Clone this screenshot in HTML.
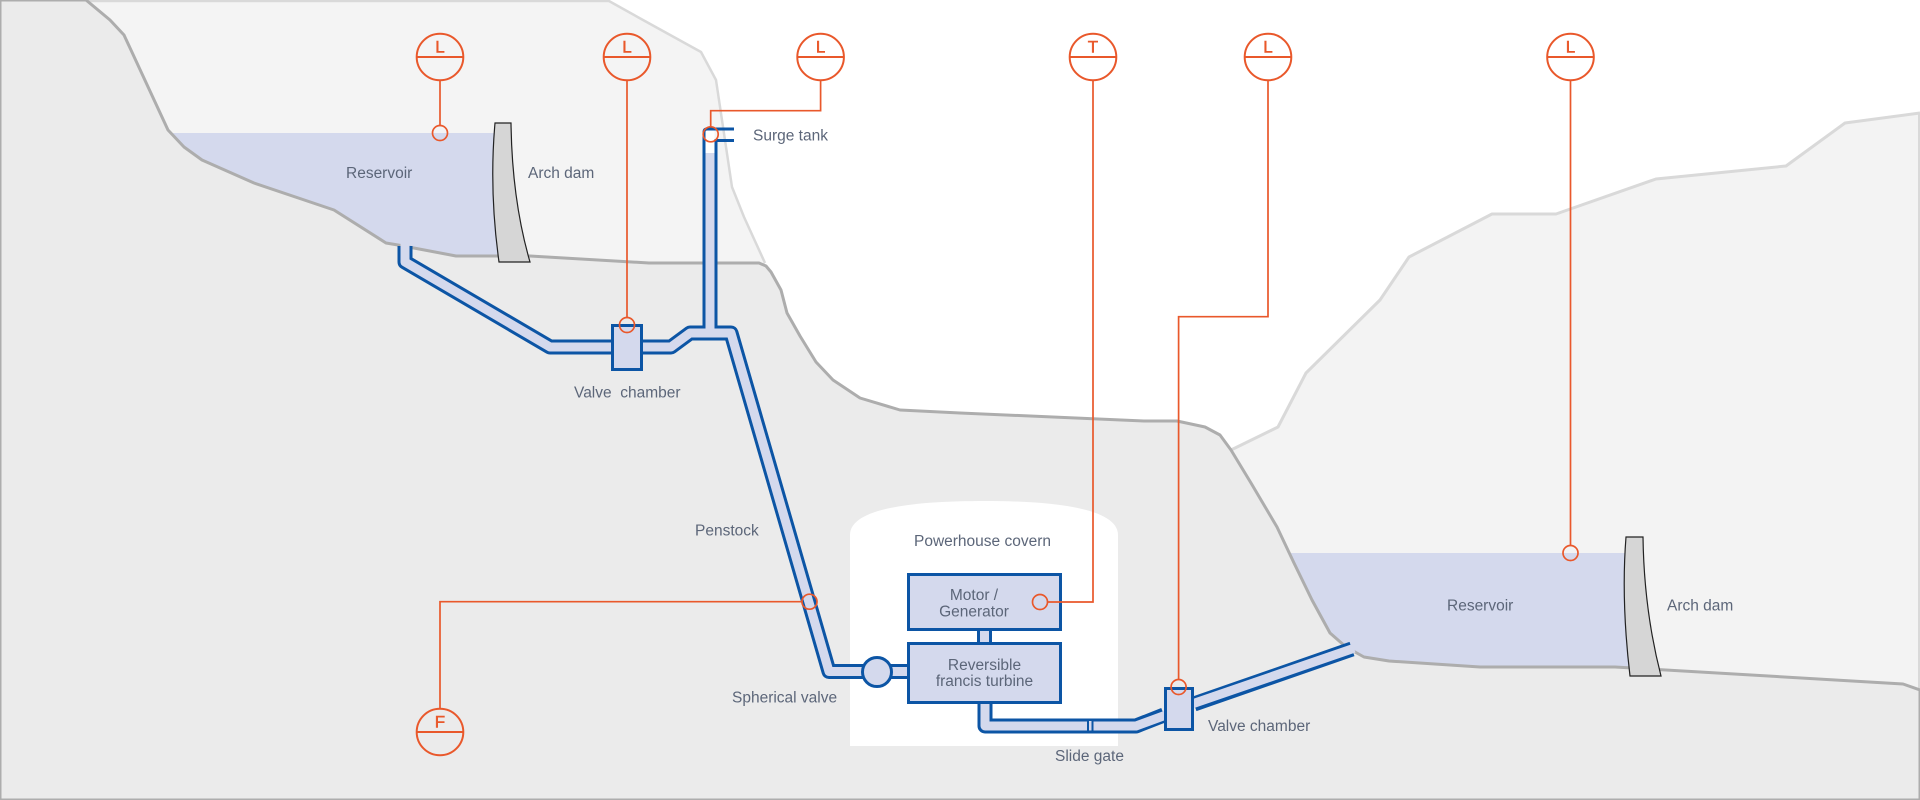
<!DOCTYPE html>
<html>
<head>
<meta charset="utf-8">
<style>
  html, body { margin: 0; padding: 0; background: #ffffff; }
  svg { display: block; }
  .lbl { font-family: "Liberation Sans", "DejaVu Sans", sans-serif; font-size: 15.5px; fill: #5c6679; }
  .sl { font-family: "Liberation Sans", "DejaVu Sans", sans-serif; font-size: 17px; fill: #e9582b; stroke: #e9582b; stroke-width: 0.5; }
</style>
</head>
<body>
<svg width="1920" height="800" viewBox="0 0 1920 800" xmlns="http://www.w3.org/2000/svg">
  <!-- background -->
  <rect x="0" y="0" width="1920" height="800" fill="#ffffff"/>

  <!-- far (light) mountains -->
  <polygon points="0,0 609,0 643,20 701,52 716,80 732,187 744,217 765,263 800,400 0,400" fill="#f4f4f4"/>
  <polygon points="1231,450 1278,427 1306,373 1380,300 1409,257 1492,214 1556,214 1656,179 1786,166 1845,123 1920,113 1920,800 1231,800" fill="#f3f3f3"/>
  <polyline points="86,1 609,1 643,20 701,52 716,80 732,187 744,217 765,263" fill="none" stroke="#d9d9d9" stroke-width="2.5" stroke-linejoin="round"/>
  <polyline points="1231,450 1278,427 1306,373 1380,300 1409,257 1492,214 1556,214 1656,179 1786,166 1845,123 1920,113" fill="none" stroke="#d9d9d9" stroke-width="3" stroke-linejoin="round"/>
  <line x1="1919" y1="113" x2="1919" y2="690" stroke="#d9d9d9" stroke-width="2"/>

  <!-- water -->
  <rect x="160" y="133" width="340" height="130" fill="#d4d9ed"/>
  <rect x="1240" y="553" width="390" height="125" fill="#d4d9ed"/>

  <!-- near mountain -->
  <polygon points="0,0 86,0 110,20 124,35 168,130 184,147 202,160 254,183 334,210 386,243 398,245 456,256 530,256 649,263 759,263 766,266 771,272 781,290 787,313 800,336 816,362 833,380 860,398 900,410 960,413 1144,421 1177,421 1205,427 1220,435 1231,450 1251,483 1277,527 1294,563 1312,600 1330,633 1346,647 1364,657 1389,661 1480,667 1615,667 1903,684 1920,690 1920,800 0,800"
           fill="#ebebeb" stroke="#adadad" stroke-width="3" stroke-linejoin="round"/>

  <!-- dams -->
  <path d="M495,123 L511,123 Q512,200 530,262 L499,262 Q489,190 495,123 Z" fill="#d6d6d6" stroke="#222222" stroke-width="1.2"/>
  <path d="M1626,537 L1643,537 Q1644,610 1661,676 L1630,676 Q1621,600 1626,537 Z" fill="#d6d6d6" stroke="#222222" stroke-width="1.2"/>

  <!-- powerhouse cavern -->
  <path d="M850,746 V535 C850,505 930,501 984,501 C1038,501 1118,505 1118,535 V746 Z" fill="#ffffff"/>

  <!-- pipes: blue outer -->
  <g fill="none" stroke="#0c55a5" stroke-width="15" stroke-linejoin="round">
    <path d="M405,246 L405,262 L550,347 L611,347"/>
    <path d="M643,347 L671,347 L690,333 L731,333 L829,671.5 L907,671.5"/>
    <path d="M710,333 V153"/>
    <path d="M984.5,631 V642"/>
    <path d="M985,704 L985,726 L1136,726 L1164,715"/>
    <path d="M1194,704 L1352,649"/>
  </g>
  <!-- pipes: light inner -->
  <g fill="none" stroke="#d4d9ed" stroke-width="9" stroke-linejoin="round">
    <path d="M405,244 L405,262 L550,347 L613,347"/>
    <path d="M641,347 L671,347 L690,333 L731,333 L829,671.5 L909,671.5"/>
    <path d="M710,336 V153"/>
    <path d="M984.5,629 V644"/>
    <path d="M985,702 L985,726 L1136,726 L1166,715"/>
    <path d="M1192,704 L1354,648.3"/>
  </g>
  <!-- surge tank top -->
  <rect x="705.5" y="130" width="9" height="23" fill="#ffffff"/>
  <path d="M704,154 V132 Q704,129 707,129 H734" fill="none" stroke="#0c55a5" stroke-width="3"/>
  <path d="M716,154 V140.5 H734" fill="none" stroke="#0c55a5" stroke-width="3"/>

  <!-- components -->
  <g fill="#d4d9ed" stroke="#0c55a5" stroke-width="3">
    <rect x="612.5" y="325.5" width="29" height="44"/>
    <rect x="1165.5" y="688.5" width="27" height="41"/>
    <circle cx="877" cy="672" r="14.5"/>
    <rect x="908.5" y="574.5" width="152" height="55"/>
    <rect x="908.5" y="643.5" width="152" height="59"/>
  </g>
  <rect x="1088" y="720" width="4.5" height="11.5" fill="#d4d9ed" stroke="#0c55a5" stroke-width="2"/>

  <!-- sensor lines -->
  <g fill="none" stroke="#e9582b" stroke-width="1.7">
    <path d="M440,80.5 V125.5"/>
    <path d="M627,80.5 V317.5"/>
    <path d="M820.6,80.5 V110.7 H710.7 V126.8"/>
    <path d="M1093,80.5 V602 H1047.5"/>
    <path d="M1268,80.5 V316.7 H1178.6 V679.5"/>
    <path d="M1570.5,80.5 V545.5"/>
    <path d="M440,708.5 V601.7 H802"/>
    <!-- small circles -->
    <circle cx="440" cy="133" r="7.5"/>
    <circle cx="627" cy="325" r="7.5"/>
    <circle cx="710.7" cy="134.3" r="7.5"/>
    <circle cx="1040" cy="602" r="7.5"/>
    <circle cx="1178.6" cy="687" r="7.5"/>
    <circle cx="1570.5" cy="553" r="7.5"/>
    <circle cx="809.5" cy="601.7" r="7.5"/>
  </g>
  <!-- sensor heads -->
  <g fill="none" stroke="#e9582b" stroke-width="2">
    <circle cx="440" cy="57" r="23.3"/><line x1="416.7" y1="57" x2="463.3" y2="57"/>
    <circle cx="627" cy="57" r="23.3"/><line x1="603.7" y1="57" x2="650.3" y2="57"/>
    <circle cx="820.6" cy="57" r="23.3"/><line x1="797.3" y1="57" x2="843.9" y2="57"/>
    <circle cx="1093" cy="57" r="23.3"/><line x1="1069.7" y1="57" x2="1116.3" y2="57"/>
    <circle cx="1268" cy="57" r="23.3"/><line x1="1244.7" y1="57" x2="1291.3" y2="57"/>
    <circle cx="1570.5" cy="57" r="23.3"/><line x1="1547.2" y1="57" x2="1593.8" y2="57"/>
    <circle cx="440" cy="732" r="23.3"/><line x1="416.7" y1="732" x2="463.3" y2="732"/>
  </g>
  <g class="sl" text-anchor="middle">
    <text x="440" y="52.5">L</text>
    <text x="627" y="52.5">L</text>
    <text x="820.6" y="52.5">L</text>
    <text x="1093" y="52.5">T</text>
    <text x="1268" y="52.5">L</text>
    <text x="1570.5" y="52.5">L</text>
    <text x="440" y="727.5">F</text>
  </g>

  <!-- labels -->
  <g class="lbl">
    <text x="346" y="178">Reservoir</text>
    <text x="528" y="178">Arch dam</text>
    <text x="753" y="140.5">Surge tank</text>
    <text x="574" y="397.5" xml:space="preserve">Valve  chamber</text>
    <text x="695" y="535.5">Penstock</text>
    <text x="914" y="546">Powerhouse covern</text>
    <text x="732" y="702.5">Spherical valve</text>
    <text x="1055" y="761">Slide gate</text>
    <text x="1208" y="731">Valve chamber</text>
    <text x="1447" y="610.5">Reservoir</text>
    <text x="1667" y="610.5">Arch dam</text>
  </g>
  <g class="lbl" text-anchor="middle">
    <text x="974" y="600">Motor /</text>
    <text x="974" y="616.5">Generator</text>
    <text x="984.5" y="670">Reversible</text>
    <text x="984.5" y="686">francis turbine</text>
  </g>
</svg>
</body>
</html>
